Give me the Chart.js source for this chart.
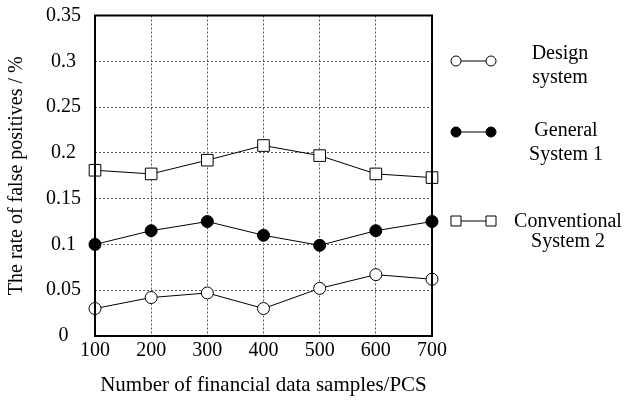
<!DOCTYPE html>
<html><head><meta charset="utf-8">
<script src="https://cdn.jsdelivr.net/npm/chart.js@4"></script>
<style>html,body{margin:0;padding:0;background:#fff}#wrap{width:628px;height:400px}</style>
</head><body><div id="wrap"><canvas id="c" width="628" height="400"></canvas></div>
<script>
const samples = ['100','200','300','400','500','600','700'];
const designSystem = [0.030, 0.042, 0.047, 0.030, 0.052, 0.067, 0.062];
const generalSystem1 = [0.100, 0.115, 0.125, 0.110, 0.099, 0.115, 0.125];
const conventionalSystem2 = [0.181, 0.177, 0.192, 0.208, 0.197, 0.177, 0.173];
const seriesNames = [['Design','system'],['General','System 1'],['Conventional','System 2']];

const FONT = "'Liberation Serif', 'Times New Roman', serif";

const boxPlugin = {
  id: 'box',
  afterDatasetsDraw(chart) {
    const {ctx, chartArea: a} = chart;
    ctx.save();
    ctx.strokeStyle = '#000';
    ctx.lineWidth = 2;
    ctx.strokeRect(a.left, a.top, a.right - a.left, a.bottom - a.top);
    ctx.restore();
  }
};

// legend layout (positions only)
const legendLayout = [
  { my: 61, cx: 560, b1: 59, b2: 83 },
  { my: 132, cx: 566, b1: 136, b2: 160 },
  { my: 221, cx: 568, b1: 227, b2: 247 }
];

const legendPlugin = {
  id: 'sideLegend',
  afterDraw(chart) {
    const {ctx} = chart;
    ctx.save();
    chart.data.datasets.forEach((ds, i) => {
      const L = legendLayout[i];
      const y = L.my;
      const x1 = 456, x2 = 491;
      ctx.strokeStyle = '#000'; ctx.lineWidth = 1;
      ctx.beginPath(); ctx.moveTo(x1, y); ctx.lineTo(x2, y); ctx.stroke();
      [x1, x2].forEach(x => {
        ctx.beginPath();
        if (ds.pointStyle === 'rect') {
          ctx.rect(x - 5, y - 5, 10, 10);
        } else {
          ctx.arc(x, y, 5, 0, Math.PI * 2);
        }
        ctx.fillStyle = ds.pointBackgroundColor;
        ctx.fill();
        ctx.stroke();
      });
      ctx.fillStyle = '#000';
      ctx.font = '20px ' + FONT;
      ctx.textAlign = 'center';
      ctx.textBaseline = 'alphabetic';
      const lines = seriesNames[i];
      ctx.fillText(lines[0], L.cx, L.b1);
      ctx.fillText(lines[1], L.cx, L.b2);
    });
    ctx.restore();
  }
};

const mk = (data, style, fill) => ({
  data, borderColor: '#000', borderWidth: 1,
  pointStyle: style, pointRadius: style === 'rect' ? 8.2 : 6, pointHoverRadius: 6,
  pointBackgroundColor: fill, pointBorderColor: '#000', pointBorderWidth: 1,
  tension: 0, fill: false
});

new Chart(document.getElementById('c'), {
  type: 'line',
  data: {
    labels: samples,
    datasets: [
      mk(designSystem, 'circle', '#fff'),
      mk(generalSystem1, 'circle', '#000'),
      mk(conventionalSystem2, 'rect', '#fff')
    ]
  },
  options: {
    responsive: false, animation: false, devicePixelRatio: 1,
    layout: { padding: { top: 15.5, right: 196, bottom: 0, left: 0 } },
    plugins: { legend: { display: false }, tooltip: { enabled: false } },
    scales: {
      x: {
        offset: false,
        afterFit: s => { s.height = 64; s.paddingLeft = 0; s.paddingRight = 0; },
        grid: { color: '#555', lineWidth: 1, drawTicks: false },
        border: { display: false, dash: [2, 2] },
        ticks: { color: '#000', font: { family: FONT, size: 20 }, padding: 3, maxRotation: 0, autoSkip: false },
        title: { display: true, text: 'Number of financial data samples/PCS', color: '#000', font: { family: FONT, size: 21 }, padding: { top: 0, bottom: 2 } }
      },
      y: {
        min: 0, max: 0.35,
        afterFit: s => { s.width = 95; s.paddingTop = 0; s.paddingBottom = 0; },
        grid: { color: '#555', lineWidth: 1, drawTicks: false },
        border: { display: false, dash: [2, 2] },
        ticks: { stepSize: 0.05, color: '#000', font: { family: FONT, size: 20 }, padding: 14, crossAlign: 'center',
          callback: v => String(Math.round(v * 100) / 100) },
        title: { display: true, text: 'The rate of false positives / %', color: '#000', font: { family: FONT, size: 20 }, padding: { top: 5, bottom: 0 } }
      }
    }
  },
  plugins: [boxPlugin, legendPlugin]
});
</script>
</body></html>
